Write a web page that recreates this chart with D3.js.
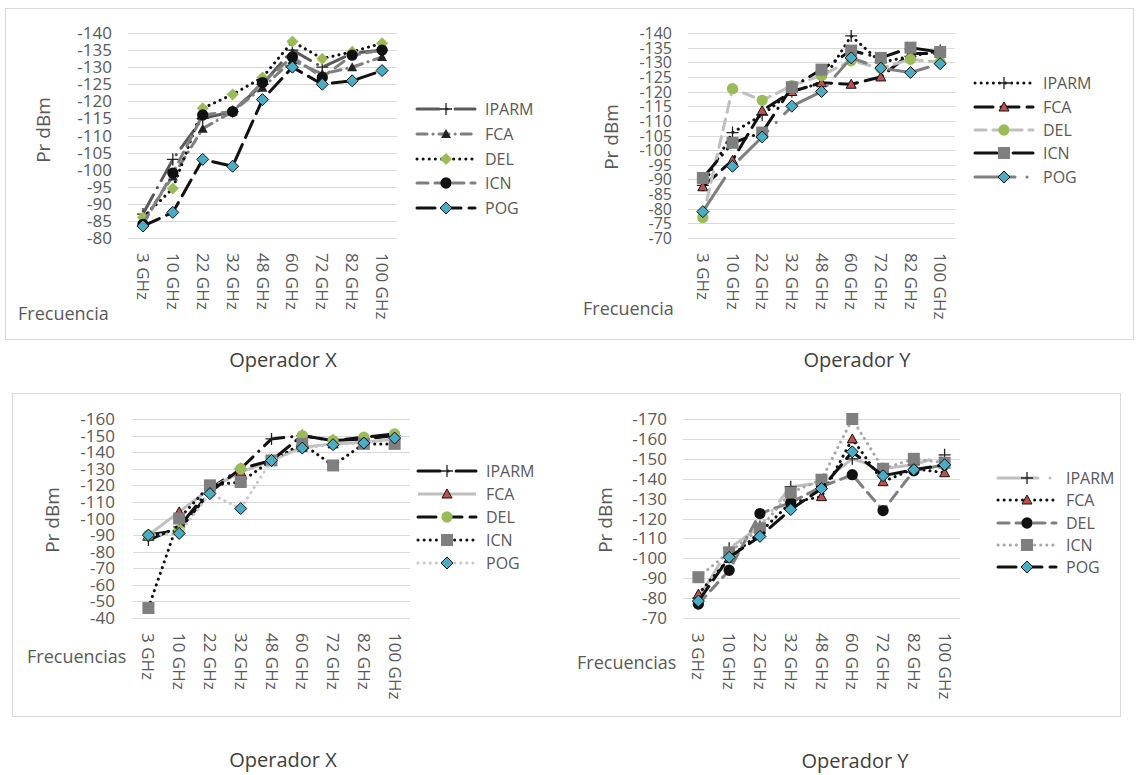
<!DOCTYPE html>
<html>
<head>
<meta charset="utf-8">
<script src="https://cdn.jsdelivr.net/npm/d3@7"></script>
<style>
  body { margin: 0; background: #fff; }
  svg { font-family: "Open Sans", "Noto Sans", sans-serif; }
</style>
</head>
<body>
<svg id="chart" width="1136" height="775"></svg>
<script>
// DATA
var categories = ["3 GHz", "10 GHz", "22 GHz", "32 GHz", "48 GHz", "60 GHz", "72 GHz", "82 GHz", "100 GHz"]
var seriesNames = ["IPARM", "FCA", "DEL", "ICN", "POG"]

// Operador X (arriba)
var a_IPARM = [-87, -103, -115, -117, -125, -135, -130, -134, -135]
var a_FCA   = [-85, -98, -112, -117, -124, -132, -128, -130, -133]
var a_DEL   = [-86, -94.5, -118, -122, -127, -137.5, -132.5, -134.5, -137]
var a_ICN   = [-84, -99, -116, -117, -125.5, -133, -127, -133.5, -135]
var a_POG   = [-83.5, -87.5, -103, -101, -120.5, -130, -125, -126, -129]
var a_ticks = [-140, -135, -130, -125, -120, -115, -110, -105, -100, -95, -90, -85, -80]

// Operador Y (arriba)
var b_IPARM = [-88, -106, -112, -120, -123, -139, -130, -132, -134]
var b_FCA   = [-87.5, -96.5, -113.5, -120, -123, -122.5, -125, -133, -133]
var b_DEL   = [-77, -121, -117, -122, -125.5, -130.5, -128, -131, -130]
var b_ICN   = [-90.5, -102.5, -106, -121.5, -127.5, -134, -131.5, -135, -133.5]
var b_POG   = [-79, -94.5, -104.5, -115, -120, -131.5, -128, -126.5, -129.5]
var b_ticks = [-140, -135, -130, -125, -120, -115, -110, -105, -100, -95, -90, -85, -80, -75, -70]

// Operador X (abajo)
var c_IPARM = [-87, -95, -118, -130, -148, -150, -147, -148, -150]
var c_FCA   = [-90, -104, -118, -128, -135, -143, -145, -146, -148]
var c_DEL   = [-90, -93, -116, -130, -135, -150, -147, -149, -151]
var c_ICN   = [-46, -100, -120, -122, -135, -145, -132, -145, -145]
var c_POG   = [-90, -91, -115, -106, -135, -142.5, -144.5, -145.5, -148.5]
var c_ticks = [-160, -150, -140, -130, -120, -110, -100, -90, -80, -70, -60, -50, -40]

// Operador Y (abajo)
var d_IPARM = [-80, -105, -116, -136, -138, -150, -145, -147, -152]
var d_FCA   = [-82, -100, -113, -128, -131, -160, -138.5, -145, -143]
var d_DEL   = [-77, -94, -122.5, -128, -136, -142, -124, -144, -147]
var d_ICN   = [-90.5, -103, -115, -133, -139.5, -170, -145, -150, -148]
var d_POG   = [-78.5, -100.5, -111, -124.5, -135, -153.5, -141.5, -144.5, -147]
var d_ticks = [-170, -160, -150, -140, -130, -120, -110, -100, -90, -80, -70]

// line styles
var DOT = "0.1 6", DASH = "11 7", LDASH = "18 8", LDD = "22 8 0.1 8", DDOT = "10 6 0.1 6"

var svg = d3.select("#chart")
var textColor = "#595959"

// panel frames
svg.append("rect").attr("x", 5.5).attr("y", 8.5).attr("width", 1128).attr("height", 331)
  .attr("fill", "none").attr("stroke", "#d9d9d9")
svg.append("rect").attr("x", 12.5).attr("y", 393.5).attr("width", 1108).attr("height", 323)
  .attr("fill", "none").attr("stroke", "#d9d9d9")

function drawMarker(g, type, x, y, fill, stroke) {
  if (type == "plus") {
    g.append("path").attr("d", "M" + (x - 6) + "," + y + "H" + (x + 6) + "M" + x + "," + (y - 6) + "V" + (y + 6))
      .attr("stroke", "#222").attr("stroke-width", 1.3).attr("fill", "none")
    return
  }
  var d
  if (type == "diamond") d = "M0,-6L6,0L0,6L-6,0Z"
  if (type == "triangle") d = "M0,-5L5,4L-5,4Z"
  if (type == "square") d = "M-6,-6H6V6H-6Z"
  if (type == "circle") d = d3.symbol().type(d3.symbolCircle).size(100)()
  g.append("path").attr("d", d).attr("transform", "translate(" + x + "," + y + ")")
    .attr("fill", fill).attr("stroke", stroke).attr("stroke-width", stroke == "none" ? 0 : 1)
}

function draw(cfg) {
  var g = svg.append("g")
  var x = d3.scaleBand().domain(categories).range([cfg.left, cfg.right])
  var y = d3.scaleLinear().domain([cfg.ticks[cfg.ticks.length - 1], cfg.ticks[0]]).range([cfg.bottom, cfg.top])
  var cx = function (c) { return x(c) + x.bandwidth() / 2 }

  // grid
  g.selectAll(".grid").data(cfg.ticks).enter().append("line")
    .attr("x1", cfg.left).attr("x2", cfg.right)
    .attr("y1", d => Math.round(y(d)) + 0.5).attr("y2", d => Math.round(y(d)) + 0.5)
    .attr("stroke", "#d9d9d9").attr("stroke-width", 1)

  // y labels
  g.selectAll(".yl").data(cfg.ticks).enter().append("text")
    .attr("x", cfg.left - cfg.ypad).attr("y", d => y(d) + 6)
    .attr("text-anchor", "end").attr("fill", textColor).style("font-size", cfg.yfont + "px")
    .text(d => d)

  // x labels (rotated)
  g.selectAll(".xl").data(categories).enter().append("text")
    .attr("transform", d => "translate(" + (cx(d) - 6) + "," + (cfg.bottom + 15) + ") rotate(90)")
    .attr("fill", textColor).style("font-size", "17px")
    .text(d => d)

  // axis titles
  g.append("text").attr("transform", "translate(" + cfg.ytx + "," + cfg.yty + ") rotate(-90)")
    .attr("text-anchor", "middle").attr("fill", textColor).style("font-size", "19px").text("Pr dBm")
  g.append("text").attr("x", cfg.xtx).attr("y", cfg.xty)
    .attr("fill", textColor).style("font-size", "18px").text(cfg.xtitle)

  // series
  var line = d3.line().x((d, i) => cx(categories[i])).y(d => y(d))
  cfg.series.forEach(function (s, k) {
    g.append("path").datum(s.values).attr("d", line)
      .attr("fill", "none").attr("stroke", s.color).attr("stroke-width", 3)
      .attr("stroke-dasharray", s.dash).attr("stroke-linecap", s.dash ? "round" : "butt")
      .attr("stroke-linejoin", "round")
    s.values.forEach(function (v, i) {
      drawMarker(g, s.marker, cx(categories[i]), y(v), s.mfill, s.mstroke)
    })
  })

  // legend
  cfg.series.forEach(function (s, k) {
    var ly = cfg.legY[k]
    g.append("line").attr("x1", cfg.legX).attr("x2", cfg.legX + 58).attr("y1", ly).attr("y2", ly)
      .attr("stroke", s.color).attr("stroke-width", 3)
      .attr("stroke-dasharray", s.dash).attr("stroke-linecap", s.dash ? "round" : "butt")
    drawMarker(g, s.marker, cfg.legX + 29, ly, s.mfill, s.mstroke)
    g.append("text").attr("x", cfg.legX + 68).attr("y", ly + 6)
      .attr("fill", textColor).style("font-size", "16px").text(seriesNames[k])
  })

  // title
  svg.append("text").attr("x", cfg.titleX).attr("y", cfg.titleY).attr("text-anchor", "middle")
    .attr("fill", "#404040").style("font-size", "20px").text(cfg.title)
}

var CYAN = "#4bacc6", GREEN = "#9bbb59", RED = "#c0504d", GRAY = "#7f7f7f"

draw({
  left: 128, right: 397, top: 33, bottom: 238, ticks: a_ticks, ypad: 16, yfont: 17,
  ytx: 50, yty: 130, xtx: 18, xty: 320, xtitle: "Frecuencia",
  legX: 417, legY: [109, 134, 159, 183, 208],
  title: "Operador X", titleX: 283, titleY: 367,
  series: [
    {values: a_IPARM, color: "#595959", dash: LDD, marker: "plus"},
    {values: a_FCA, color: GRAY, dash: DDOT, marker: "triangle", mfill: "#222", mstroke: "none"},
    {values: a_DEL, color: "#111", dash: DOT, marker: "diamond", mfill: GREEN, mstroke: "none"},
    {values: a_ICN, color: GRAY, dash: DASH, marker: "circle", mfill: "#111", mstroke: "none"},
    {values: a_POG, color: "#111", dash: LDASH, marker: "diamond", mfill: CYAN, mstroke: "#111"}
  ]
})

draw({
  left: 688, right: 955, top: 33, bottom: 238, ticks: b_ticks, ypad: 16, yfont: 16,
  ytx: 618, yty: 137, xtx: 583, xty: 315, xtitle: "Frecuencia",
  legX: 975, legY: [83, 107, 130, 153, 177],
  title: "Operador Y", titleX: 857, titleY: 367,
  series: [
    {values: b_IPARM, color: "#111", dash: DOT, marker: "plus"},
    {values: b_FCA, color: "#111", dash: LDASH, marker: "triangle", mfill: RED, mstroke: "#111"},
    {values: b_DEL, color: "#bfbfbf", dash: DASH, marker: "circle", mfill: GREEN, mstroke: "none"},
    {values: b_ICN, color: "#111", dash: LDD, marker: "square", mfill: GRAY, mstroke: "none"},
    {values: b_POG, color: GRAY, dash: "40 12 0.1 12", marker: "diamond", mfill: CYAN, mstroke: "#111"}
  ]
})

draw({
  left: 133, right: 410, top: 419, bottom: 618, ticks: c_ticks, ypad: 18, yfont: 17,
  ytx: 59, yty: 520, xtx: 27, xty: 663, xtitle: "Frecuencias",
  legX: 418, legY: [471, 494, 517, 540, 563],
  title: "Operador X", titleX: 283, titleY: 767,
  series: [
    {values: c_IPARM, color: "#111", dash: LDD, marker: "plus"},
    {values: c_FCA, color: "#bfbfbf", dash: null, marker: "triangle", mfill: RED, mstroke: "#111"},
    {values: c_DEL, color: "#111", dash: LDASH, marker: "circle", mfill: GREEN, mstroke: "none"},
    {values: c_ICN, color: "#111", dash: DOT, marker: "square", mfill: GRAY, mstroke: "none"},
    {values: c_POG, color: "#c8c8c8", dash: DOT, marker: "diamond", mfill: CYAN, mstroke: "#111"}
  ]
})

draw({
  left: 683, right: 960, top: 419, bottom: 618, ticks: d_ticks, ypad: 16, yfont: 17,
  ytx: 612, yty: 520, xtx: 577, xty: 669, xtitle: "Frecuencias",
  legX: 998, legY: [478, 500, 523, 545, 567],
  title: "Operador Y", titleX: 855, titleY: 768,
  series: [
    {values: d_IPARM, color: "#bfbfbf", dash: "40 12 0.1 12", marker: "plus"},
    {values: d_FCA, color: "#111", dash: DOT, marker: "triangle", mfill: RED, mstroke: "#111"},
    {values: d_DEL, color: GRAY, dash: DASH, marker: "circle", mfill: "#111", mstroke: "none"},
    {values: d_ICN, color: "#a6a6a6", dash: DOT, marker: "square", mfill: GRAY, mstroke: "none"},
    {values: d_POG, color: "#111", dash: LDASH, marker: "diamond", mfill: CYAN, mstroke: "#111"}
  ]
})
</script>
</body>
</html>
